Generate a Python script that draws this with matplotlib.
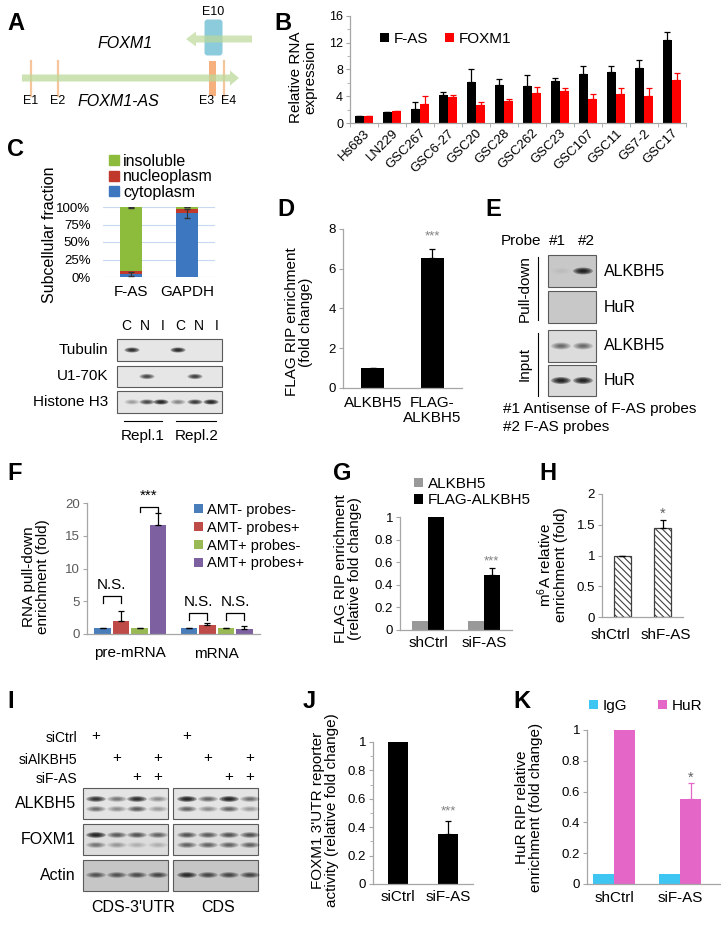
import numpy as np
import matplotlib.pyplot as plt
from matplotlib.patches import Rectangle, Ellipse, FancyBboxPatch, FancyArrow, Patch
from matplotlib.ticker import MultipleLocator, FormatStrFormatter, FixedLocator

plt.rcParams['font.family'] = ['Liberation Sans', 'DejaVu Sans']
plt.rcParams['mathtext.default'] = 'regular'
plt.rcParams['hatch.linewidth'] = 0.8

# ---- data ----
# B: relative RNA expression in glioma lines
b_lines = ['Hs683', 'LN229', 'GSC267', 'GSC6-27', 'GSC20', 'GSC28', 'GSC262',
           'GSC23', 'GSC107', 'GSC11', 'GS7-2', 'GSC17']
b_fas = [1.0, 1.6, 2.1, 4.2, 6.2, 5.7, 5.6, 6.3, 7.4, 7.6, 8.2, 12.4]
b_fas_err = [0.0, 0.0, 1.0, 0.4, 1.9, 0.9, 1.6, 0.5, 1.1, 0.9, 1.2, 1.2]
b_foxm1 = [1.0, 1.8, 2.9, 3.9, 2.7, 3.3, 4.5, 4.8, 3.6, 4.3, 4.0, 6.4]
b_foxm1_err = [0.0, 0.0, 1.2, 0.3, 0.5, 0.3, 0.9, 0.5, 0.7, 0.9, 1.2, 1.1]

# C: subcellular fractions
c_rna = ['F-AS', 'GAPDH']
c_cyto = [0.04, 0.91]
c_nucleo = [0.04, 0.06]
c_insol = [0.92, 0.03]
c_cyto_err = [0.03, 0.06]
c_top_err = [0.01, 0.0]
c_lanes = ['C', 'N', 'I', 'C', 'N', 'I']
c_blot_rows = ['Tubulin', 'U1-70K', 'Histone H3']
c_blot_int = [[0.9, 0, 0, 0.95, 0, 0],
              [0, 0.7, 0, 0, 0.75, 0],
              [0.25, 0.7, 1.0, 0.35, 0.8, 1.0]]

# D: FLAG RIP
d_groups = ['ALKBH5', 'FLAG-\nALKBH5']
d_vals = [1.0, 6.55]
d_err = [0.0, 0.45]

# E: pull-down blot
e_rows = ['ALKBH5', 'HuR', 'ALKBH5', 'HuR']
e_int = [[0.03, 1.0], [0.0, 0.0], [0.45, 0.45], [1.0, 1.0]]

# F: RNA pull-down
f_groups = ['pre-mRNA', 'mRNA']
f_series = ['AMT- probes-', 'AMT- probes+', 'AMT+ probes-', 'AMT+ probes+']
f_vals = [[0.9, 2.05, 0.9, 16.6], [0.9, 1.3, 0.9, 0.75]]
f_err = [[0.0, 1.45, 0.0, 1.8], [0.0, 0.45, 0.0, 0.4]]

# G: FLAG RIP after knockdown
g_groups = ['shCtrl', 'siF-AS']
g_alk = [0.08, 0.08]
g_flag = [1.0, 0.49]
g_flag_err = [0.0, 0.06]

# H: m6A enrichment
h_groups = ['shCtrl', 'shF-AS']
h_vals = [1.0, 1.44]
h_err = [0.0, 0.13]

# I: western blot
i_rows = ['ALKBH5', 'FOXM1', 'Actin']
i_sictrl = [1, 0, 0, 0]
i_sialk = [0, 1, 0, 1]
i_sifas = [0, 0, 1, 1]
i_left_int = [[[0.85, 0.4, 0.9, 0.3], [0.45, 0.3, 0.55, 0.25]],
              [[1.0, 0.55, 0.6, 0.5], [0.4, 0.25, 0.15, 0.15]],
              [[0.55, 0.55, 0.6, 0.65]]]
i_right_int = [[[1.0, 0.5, 1.0, 0.45], [0.5, 0.3, 0.5, 0.25]],
               [[0.6, 0.55, 0.6, 0.6], [0.5, 0.5, 0.5, 0.5]],
               [[0.9, 0.65, 0.65, 0.65]]]

# J: reporter activity
j_groups = ['siCtrl', 'siF-AS']
j_vals = [1.0, 0.35]
j_err = [0.0, 0.095]

# K: HuR RIP
k_groups = ['shCtrl', 'siF-AS']
k_igg = [0.065, 0.065]
k_hur = [1.0, 0.55]
k_hur_err = [0.0, 0.105]

W, H = 721, 925
fig = plt.figure(figsize=(W / 100, H / 100), dpi=100)
ov = fig.add_axes([0, 0, 1, 1])
ov.set_xlim(0, W)
ov.set_ylim(H, 0)
ov.axis('off')

SPINE = '#a6a6a6'
TICK = 9.5
CAT = 11
LAB = 11


def px_axes(x0, y0, x1, y1):
    ax = fig.add_axes([x0 / W, 1 - y1 / H, (x1 - x0) / W, (y1 - y0) / H])
    ax.patch.set_alpha(0)
    return ax


def style(ax, ylo, yhi, step, minor=None, ysize=TICK, xsize=CAT, xpad=4):
    ax.set_ylim(ylo, yhi)
    ax.set_yticks(np.arange(ylo, yhi + step / 2, step))
    ax.yaxis.set_major_formatter(FormatStrFormatter('%g'))
    if minor:
        ax.yaxis.set_minor_locator(MultipleLocator(minor))
    for s in ['top', 'right']:
        ax.spines[s].set_visible(False)
    for s in ['left', 'bottom']:
        ax.spines[s].set_color(SPINE)
        ax.spines[s].set_linewidth(0.9)
    ax.tick_params(axis='y', which='both', color=SPINE, length=3, labelsize=ysize, pad=2)
    ax.tick_params(axis='y', which='minor', length=2)
    ax.tick_params(axis='x', length=0, labelsize=xsize, pad=xpad)


def upbars(ax, x, y, e, color='black'):
    e = np.asarray(e)
    ax.errorbar(x, y, yerr=[np.zeros_like(e), e], fmt='none', ecolor=color,
                elinewidth=0.9, capsize=2.5, capthick=0.9)


def letter(x, y, s):
    ov.text(x, y, s, fontsize=17, fontweight='bold', ha='left', va='center')


def ylab(x, y, s, size=LAB):
    ov.text(x, y, s, rotation=90, ha='center', va='center', fontsize=size,
            linespacing=1.0)


def blot(x0, y0, x1, y1, lanes, bands, bg='#e2e2e2', bw=13, bh=5):
    ov.add_patch(Rectangle((x0, y0), x1 - x0, y1 - y0, facecolor=bg,
                           edgecolor='#5a5a5a', lw=0.8))
    for yc, vals in bands:
        for x, v in zip(lanes, vals):
            if v <= 0:
                continue
            for s in [1.15, 0.9, 0.65, 0.4]:
                ov.add_patch(Ellipse((x, yc), bw * s, bh * s, facecolor='black',
                                     alpha=min(1, v * 0.35), lw=0))


# ---- A: gene schematic ----
letter(7, 23, 'A')
ov.add_patch(FancyBboxPatch((205, 20), 17, 35, boxstyle='round,pad=0.5,rounding_size=3',
                            facecolor='#8ccbdc', edgecolor='none', zorder=1))
ov.add_patch(FancyArrow(252, 39, -66, 0, width=7, head_width=15, head_length=10,
                        length_includes_head=True, color='#bcd99a', alpha=0.7, lw=0, zorder=2))
ov.text(213, 12, 'E10', ha='center', va='center', fontsize=9)
ov.text(125, 43, 'FOXM1', ha='center', va='center', fontsize=11.5, style='italic')
for x in [31, 58, 224]:
    ov.plot([x, x], [61, 96], color='#f6c59b', lw=1.6, zorder=1)
ov.add_patch(Rectangle((209, 61), 6.5, 35, facecolor='#f5b07d', edgecolor='none', zorder=1))
ov.add_patch(FancyArrow(22, 78, 217, 0, width=7, head_width=15, head_length=9,
                        length_includes_head=True, color='#bcd99a', alpha=0.75, lw=0, zorder=2))
for x, s in zip([31, 58, 207, 229], ['E1', 'E2', 'E3', 'E4']):
    ov.text(x, 101, s, ha='center', va='center', fontsize=9)
ov.text(118, 101, 'FOXM1-AS', ha='center', va='center', fontsize=11.5, style='italic')

# ---- B ----
letter(274, 23, 'B')
axb = px_axes(350, 16, 686, 123)
style(axb, 0, 16, 4, minor=2, ysize=9)
xb = np.arange(len(b_lines))
axb.bar(xb - 0.165, b_fas, 0.33, color='black', label='F-AS')
axb.bar(xb + 0.165, b_foxm1, 0.33, color='#ff0000', label='FOXM1')
upbars(axb, xb - 0.165, b_fas, b_fas_err)
upbars(axb, xb + 0.165, b_foxm1, b_foxm1_err, color='#ff0000')
axb.set_xlim(-0.5, len(b_lines) - 0.5)
axb.set_xticks(xb)
axb.set_xticklabels(b_lines, rotation=45, ha='right', rotation_mode='anchor', fontsize=9.5)
axb.tick_params(axis='x', pad=3)
axb.xaxis.set_minor_locator(FixedLocator(np.arange(-0.5, len(b_lines), 1)))
axb.tick_params(axis='x', which='minor', length=3, color=SPINE)
axb.legend(loc='upper left', bbox_to_anchor=(380, 32), bbox_transform=ov.transData,
           ncol=2, frameon=False, handlelength=0.6, handleheight=0.6, handletextpad=0.3,
           columnspacing=1.1, fontsize=11, borderpad=0, borderaxespad=0)
ylab(303, 77, 'Relative RNA\nexpression')

# ---- C ----
letter(7, 149, 'C')
axc = px_axes(103, 207, 215, 277)
axc.set_ylim(0, 1)
axc.set_xlim(-0.5, 1.5)
xc = np.arange(2)
c_cols = ['#3d77c0', '#c0392b', '#8dbb3c']
axc.bar(xc, c_cyto, 0.41, color=c_cols[0], zorder=2)
axc.bar(xc, c_nucleo, 0.41, bottom=c_cyto, color=c_cols[1], zorder=2)
axc.bar(xc, c_insol, 0.41, bottom=np.add(c_cyto, c_nucleo), color=c_cols[2], zorder=2)
axc.errorbar(xc, c_cyto, yerr=c_cyto_err, fmt='none', ecolor='#333333', elinewidth=0.8,
             capsize=2, zorder=3)
axc.errorbar(xc, [1, 1], yerr=[c_top_err, [0, 0]], fmt='none', ecolor='#333333',
             elinewidth=0.8, capsize=2, zorder=3)
axc.set_yticks([0, 0.25, 0.5, 0.75, 1.0])
axc.set_yticklabels(['0%', '25%', '50%', '75%', '100%'])
axc.yaxis.grid(True, color='#c6d9f1', lw=0.8, zorder=0)
for s in axc.spines.values():
    s.set_visible(False)
axc.tick_params(axis='y', length=0, labelsize=TICK, pad=9)
axc.set_xticks(xc)
axc.set_xticklabels(c_rna)
axc.tick_params(axis='x', length=0, labelsize=CAT, pad=6)
axc.legend(handles=[Patch(color=c_cols[2]), Patch(color=c_cols[1]), Patch(color=c_cols[0])],
           labels=['insoluble', 'nucleoplasm', 'cytoplasm'], loc='upper left',
           bbox_to_anchor=(109, 154), bbox_transform=ov.transData, frameon=False,
           handlelength=0.6, handleheight=0.6, handletextpad=0.3, labelspacing=0.02,
           fontsize=11.5, borderpad=0, borderaxespad=0)
ylab(50, 235, 'Subcellular fraction', size=11.5)

c_lane_x = [132, 147, 161, 178, 195, 211]
for x, s in zip([126, 145, 163, 180, 199, 217], c_lanes):
    ov.text(x, 326, s, ha='center', va='center', fontsize=10)
c_boxes = [(339, 361), (366, 387), (391, 413)]
for (y0, y1), name, vals in zip(c_boxes, c_blot_rows, c_blot_int):
    blot(117, y0, 222, y1, c_lane_x, [((y0 + y1) / 2, vals)], bg='#e6e6e6', bw=13, bh=4.5)
    ov.text(108, (y0 + y1) / 2, name, ha='right', va='center', fontsize=11)
ov.plot([124, 162], [421, 421], color='black', lw=0.8)
ov.plot([176, 216], [421, 421], color='black', lw=0.8)
ov.text(143, 436, 'Repl.1', ha='center', va='center', fontsize=11)
ov.text(197, 436, 'Repl.2', ha='center', va='center', fontsize=11)

# ---- D ----
letter(277, 210, 'D')
axd = px_axes(343, 229, 462, 388)
style(axd, 0, 8, 2, xpad=6)
xd = np.arange(2)
axd.bar(xd, d_vals, 0.39, color='black')
upbars(axd, xd, d_vals, d_err)
axd.set_xlim(-0.5, 1.5)
axd.set_xticks(xd)
axd.set_xticklabels(d_groups, va='top', linespacing=1.05)
axd.text(1, 7.65, '***', ha='center', va='center', color='#808080', fontsize=9.5)
ylab(299, 322, 'FLAG RIP enrichment\n(fold change)')

# ---- E ----
letter(485, 210, 'E')
ov.text(501, 241, 'Probe', ha='left', va='center', fontsize=11)
ov.text(557, 241, '#1', ha='center', va='center', fontsize=11)
ov.text(586, 241, '#2', ha='center', va='center', fontsize=11)
e_boxes = [(255, 287), (291, 323), (330, 362), (365, 396)]
e_bg = ['#c8c8c8', '#c8c8c8', '#dcdcdc', '#dadada']
for (y0, y1), name, vals, bg in zip(e_boxes, e_rows, e_int, e_bg):
    blot(548, y0, 596, y1, [561, 583], [((y0 + y1) / 2, vals)], bg=bg, bw=17, bh=6)
    ov.text(604, (y0 + y1) / 2, name, ha='left', va='center', fontsize=11.5)
ov.plot([538, 538], [257, 320], color='black', lw=0.8)
ov.plot([538, 538], [333, 396], color='black', lw=0.8)
ov.text(525, 289, 'Pull-down', rotation=90, ha='center', va='center', fontsize=11)
ov.text(525, 364, 'Input', rotation=90, ha='center', va='center', fontsize=11)
ov.text(503, 409, '#1 Antisense of F-AS probes', ha='left', va='center', fontsize=11)
ov.text(503, 427, '#2 F-AS probes', ha='left', va='center', fontsize=11)

# ---- F ----
letter(7, 473, 'F')
axf = px_axes(87, 503, 260, 634)
style(axf, 0, 20, 5, xpad=9)
axf.tick_params(axis='y', labelcolor='#595959')
f_cols = ['#4a7ebb', '#be4b48', '#98b954', '#7d60a0']
f_off = [-0.32, -0.107, 0.107, 0.32]
xf = np.arange(len(f_groups))
fv = np.array(f_vals)
fe = np.array(f_err)
for k in range(4):
    axf.bar(xf + f_off[k], fv[:, k], 0.19, color=f_cols[k], label=f_series[k])
    upbars(axf, xf + f_off[k], fv[:, k], fe[:, k])
axf.set_xlim(-0.5, 1.5)
axf.set_xticks(xf)
axf.set_xticklabels(f_groups)


def bracket(ax, x1, x2, ylo, yhi, txt):
    ax.plot([x1, x1, x2, x2], [ylo, yhi, yhi, ylo], color='black', lw=0.9)
    ax.text((x1 + x2) / 2, yhi + 0.6, txt, ha='center', va='bottom', fontsize=11)


bracket(axf, f_off[0], f_off[1], 4.7, 5.8, 'N.S.')
bracket(axf, f_off[2], f_off[3], 18.6, 19.4, '***')
bracket(axf, 1 + f_off[0], 1 + f_off[1], 2.2, 3.2, 'N.S.')
bracket(axf, 1 + f_off[2], 1 + f_off[3], 2.2, 3.2, 'N.S.')
axf.legend(loc='upper left', bbox_to_anchor=(194, 503), bbox_transform=ov.transData,
           frameon=False, handlelength=0.6, handleheight=0.6, handletextpad=0.3,
           labelspacing=0.26, fontsize=10.5, borderpad=0, borderaxespad=0)
ylab(36, 577, 'RNA pull-down\nenrichment (fold)')

# ---- G ----
letter(333, 473, 'G')
axg = px_axes(400, 517, 512, 630)
style(axg, 0, 1, 0.2, xpad=4)
xg = np.arange(2)
axg.bar(xg - 0.14, g_alk, 0.28, color='#999999', label='ALKBH5')
axg.bar(xg + 0.14, g_flag, 0.28, color='black', label='FLAG-ALKBH5')
upbars(axg, xg + 0.14, g_flag, g_flag_err)
axg.set_xlim(-0.5, 1.5)
axg.set_xticks(xg)
axg.set_xticklabels(g_groups)
axg.text(1 + 0.14, 0.61, '***', ha='center', va='center', color='#808080', fontsize=9.5)
axg.legend(loc='upper left', bbox_to_anchor=(414, 477), bbox_transform=ov.transData,
           frameon=False, handlelength=0.6, handleheight=0.6, handletextpad=0.3,
           labelspacing=0.15, fontsize=11, borderpad=0, borderaxespad=0)
ylab(348, 569, 'FLAG RIP enrichment\n(relative fold change)')

# ---- H ----
letter(539, 473, 'H')
axh = px_axes(602, 494, 683, 617)
style(axh, 0, 2, 0.5, xpad=8)
xh = np.arange(2)
axh.bar(xh, h_vals, 0.41, facecolor='white', edgecolor='#404040', hatch='\\\\\\\\\\', lw=0.9)
upbars(axh, xh, h_vals, h_err)
axh.set_xlim(-0.5, 1.5)
axh.set_xticks(xh)
axh.set_xticklabels([])
for x, s in zip([610, 666], h_groups):
    ov.text(x, 635, s, ha='center', va='center', fontsize=CAT)
axh.text(1, 1.68, '*', ha='center', va='center', color='#606060', fontsize=10.5)
ylab(552, 565, 'm$^6$A relative\nenrichment (fold)')

# ---- I ----
letter(7, 701, 'I')
i_left_x = [96, 117, 137, 158]
i_right_x = [187, 208, 229, 250]
for name, marks, y in zip(['siCtrl', 'siAlKBH5', 'siF-AS'], [i_sictrl, i_sialk, i_sifas],
                          [738, 760, 779]):
    ov.text(77, y, name, ha='right', va='center', fontsize=10)
    for x, m in zip(i_left_x + i_right_x, marks + marks):
        if m:
            ov.text(x, y - 2, '+', ha='center', va='center', fontsize=11)
i_boxes = [(788, 819), (824, 855), (860, 891)]
i_bg = ['#e4e4e4', '#dcdcdc', '#c6c6c6']
for r, ((y0, y1), name, bg) in enumerate(zip(i_boxes, i_rows, i_bg)):
    if len(i_left_int[r]) == 2:
        ys = [y0 + 11, y0 + 21]
    else:
        ys = [y0 + 15]
    blot(83, y0, 168, y1, i_left_x, list(zip(ys, i_left_int[r])), bg=bg, bw=17, bh=5)
    blot(173, y0, 258, y1, i_right_x, list(zip(ys, i_right_int[r])), bg=bg, bw=17, bh=5)
    ov.text(76, (y0 + y1) / 2, name, ha='right', va='center', fontsize=11.5)
ov.text(133, 907, "CDS-3'UTR", ha='center', va='center', fontsize=11.5)
ov.text(218, 907, 'CDS', ha='center', va='center', fontsize=11.5)

# ---- J ----
letter(303, 701, 'J')
axj = px_axes(373, 742, 473, 884)
style(axj, 0, 1, 0.2, minor=0.1, xpad=4)
xj = np.arange(2)
axj.bar(xj, j_vals, 0.4, color='black')
upbars(axj, xj, j_vals, j_err)
axj.set_xlim(-0.5, 1.5)
axj.set_xticks(xj)
axj.set_xticklabels(j_groups)
axj.text(1, 0.51, '***', ha='center', va='center', color='#808080', fontsize=9.5)
ylab(325, 810, "FOXM1 3'UTR reporter\nactivity (relative fold change)")

# ---- K ----
letter(513, 701, 'K')
axk = px_axes(587, 730, 720, 884)
style(axk, 0, 1, 0.2, xpad=5)
xk = np.arange(2)
axk.bar(xk - 0.16, k_igg, 0.32, color='#3ec5f2', label='IgG')
axk.bar(xk + 0.16, k_hur, 0.32, color='#e466c6', label='HuR')
upbars(axk, xk + 0.16, k_hur, k_hur_err, color='#e466c6')
axk.set_xlim(-0.41, 1.6)
axk.set_xticks(xk)
axk.set_xticklabels(k_groups)
axk.text(1 + 0.16, 0.69, '*', ha='center', va='center', color='#606060', fontsize=10.5)
axk.legend(loc='upper left', bbox_to_anchor=(589, 699), bbox_transform=ov.transData,
           ncol=2, frameon=False, handlelength=0.6, handleheight=0.6, handletextpad=0.3,
           columnspacing=2.0, fontsize=11, borderpad=0, borderaxespad=0)
ylab(529, 807, 'HuR RIP relative\nenrichment (fold change)')

fig.savefig('out.png', dpi=100)
